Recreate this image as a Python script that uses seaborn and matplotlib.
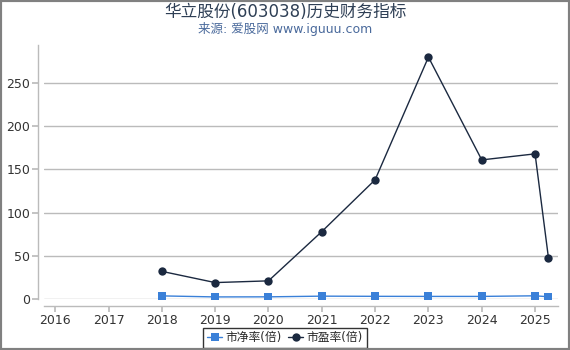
import matplotlib
matplotlib.use("Agg")
import matplotlib.pyplot as plt
import seaborn as sns
import pandas as pd

# data
years = [2018, 2019, 2020, 2021, 2022, 2023, 2024, 2025, 2025.25]
pb = [3.6, 2.4, 2.5, 3.3, 3.1, 3.0, 3.0, 3.7, 2.6]
pe = [32, 19, 21, 78, 138, 280, 161, 168, 48]
xticks = [2016, 2017, 2018, 2019, 2020, 2021, 2022, 2023, 2024, 2025]
yticks = [0, 50, 100, 150, 200, 250]

sns.set_theme(style="white")
plt.rcParams['font.family'] = ['DejaVu Sans', 'Noto Sans CJK SC']

fig = plt.figure(figsize=(5.7, 3.5), dpi=100)
ax = fig.add_axes([44/570, 1-299/350, (558-44)/570, (299-45)/350])

df = pd.DataFrame({"year": years, "pb": pb, "pe": pe})
sns.lineplot(data=df, x="year", y="pb", ax=ax, color="#3a80d8", marker="s",
             markersize=5.5, markeredgewidth=0, linewidth=1, label="市净率(倍)")
sns.lineplot(data=df, x="year", y="pe", ax=ax, color="#1b2940", marker="o",
             markersize=6, markeredgewidth=0, linewidth=1, label="市盈率(倍)")

ax.set_xlim(2015.79, 2025.43)
ax.set_ylim(0, 294)
ax.set_xticks(xticks)
ax.set_xticklabels([str(x) for x in xticks])
ax.set_yticks(yticks)
ax.yaxis.grid(True, color="#bbbbbb", linewidth=1)
ax.xaxis.grid(False)
ax.set_xlabel("")
ax.set_ylabel("")
for s in ["top", "right"]:
    ax.spines[s].set_visible(False)
ax.spines["left"].set_position(("outward", 4))
ax.spines["bottom"].set_position(("outward", 5))
for s in ["left", "bottom"]:
    ax.spines[s].set_color("#bbbbbb")
    ax.spines[s].set_linewidth(1)
ax.tick_params(axis="both", which="both", length=4, color="#bbbbbb",
               labelsize=9, labelcolor="#333333", bottom=True, left=True, pad=2)

leg = ax.legend(loc="upper center", frameon=True,
                fontsize=8.5, ncol=2, handlelength=1.3, handletextpad=0.3,
                columnspacing=0.5, borderpad=0.3, fancybox=False)
leg.set_bbox_to_anchor((0.5 - (558+44-570)/2/514, -0.09), transform=ax.transAxes)
leg.get_frame().set_edgecolor("black")
leg.get_frame().set_linewidth(1)

fig.text(0.5, 1-12/350, "华立股份(603038)历史财务指标", ha="center", va="center",
         fontsize=12, color="#2e3f55")
fig.text(0.5, 1-29/350, "来源: 爱股网 www.iguuu.com", ha="center", va="center",
         fontsize=9, color="#4a6a9c")

border = plt.Rectangle((0, 0), 1, 1, transform=fig.transFigure, fill=False,
                       edgecolor="#808080", linewidth=3, zorder=10)
fig.patches.append(border)

fig.savefig("out.png", dpi=100)
